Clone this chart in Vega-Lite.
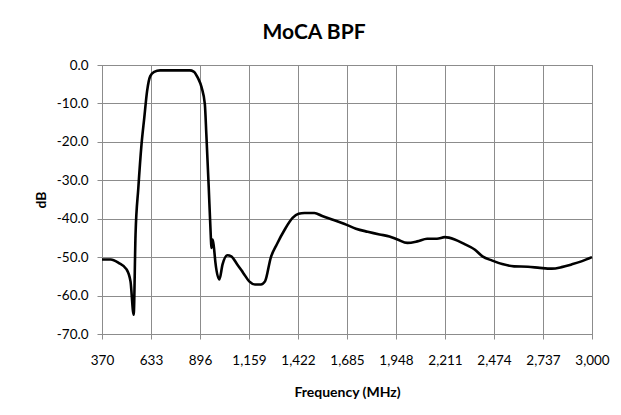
{
  "$schema": "https://vega.github.io/schema/vega-lite/v6.json",
  "width": 490,
  "height": 269,
  "autosize": "none",
  "padding": {"left": 102, "top": 65, "right": 29, "bottom": 81},
  "background": "white",
  "title": {"text": "MoCA BPF", "font": "Lato", "fontSize": 21, "fontWeight": "bold", "color": "#000", "anchor": "middle", "dx": -33, "offset": 15},
  "config": {
    "view": {"stroke": "#8c8c8c", "strokeWidth": 1},
    "axis": {"labelFont": "Lato", "titleFont": "Lato", "labelColor": "#000", "titleColor": "#000", "labelFontSize": 13.5, "titleFontSize": 14, "titleFontWeight": "bold", "gridColor": "#8c8c8c", "gridWidth": 1, "gridOpacity": 1, "domainColor": "#8c8c8c", "tickColor": "#8c8c8c", "tickSize": 5}
  },
  "data": {"values": [
    {"f": 370, "db": -50.6}, {"f": 417, "db": -50.6}, {"f": 459, "db": -51.5}, {"f": 502, "db": -53.2},
    {"f": 523, "db": -56.3}, {"f": 540, "db": -65.0}, {"f": 550, "db": -44.1}, {"f": 565, "db": -32.0},
    {"f": 582, "db": -20.7}, {"f": 597, "db": -13.7}, {"f": 612, "db": -6.8}, {"f": 629, "db": -2.9},
    {"f": 650, "db": -1.8}, {"f": 682, "db": -1.4}, {"f": 841, "db": -1.4}, {"f": 862, "db": -1.7},
    {"f": 884, "db": -3.3}, {"f": 905, "db": -5.9}, {"f": 922, "db": -10.2}, {"f": 930, "db": -18.0},
    {"f": 943, "db": -32.0}, {"f": 952, "db": -42.4}, {"f": 958, "db": -47.6}, {"f": 964, "db": -45.4},
    {"f": 971, "db": -47.6}, {"f": 979, "db": -51.5}, {"f": 1000, "db": -55.8}, {"f": 1017, "db": -51.9},
    {"f": 1043, "db": -49.5}, {"f": 1064, "db": -49.8}, {"f": 1096, "db": -51.9}, {"f": 1128, "db": -54.1},
    {"f": 1160, "db": -56.3}, {"f": 1191, "db": -57.1}, {"f": 1223, "db": -57.1}, {"f": 1245, "db": -56.3},
    {"f": 1276, "db": -50.1}, {"f": 1308, "db": -46.7}, {"f": 1351, "db": -42.8}, {"f": 1393, "db": -39.8},
    {"f": 1425, "db": -38.7}, {"f": 1457, "db": -38.5}, {"f": 1510, "db": -38.5}, {"f": 1552, "db": -39.3},
    {"f": 1605, "db": -40.2}, {"f": 1669, "db": -41.3}, {"f": 1733, "db": -42.6}, {"f": 1796, "db": -43.4},
    {"f": 1860, "db": -44.1}, {"f": 1913, "db": -44.6}, {"f": 1956, "db": -45.4}, {"f": 2009, "db": -46.3},
    {"f": 2062, "db": -45.9}, {"f": 2115, "db": -45.2}, {"f": 2168, "db": -45.2}, {"f": 2210, "db": -44.8},
    {"f": 2263, "db": -45.4}, {"f": 2316, "db": -46.6}, {"f": 2370, "db": -48.0}, {"f": 2412, "db": -49.8},
    {"f": 2465, "db": -50.9}, {"f": 2518, "db": -51.8}, {"f": 2582, "db": -52.4}, {"f": 2656, "db": -52.5},
    {"f": 2720, "db": -52.8}, {"f": 2784, "db": -53.0}, {"f": 2837, "db": -52.6}, {"f": 2890, "db": -51.9},
    {"f": 2943, "db": -51.1}, {"f": 3000, "db": -50.0}
  ]},
  "mark": {"type": "line", "color": "#000", "strokeWidth": 2.6, "interpolate": "monotone"},
  "encoding": {
    "x": {"field": "f", "type": "quantitative", "scale": {"domain": [370, 3000], "nice": false, "zero": false},
      "axis": {"title": "Frequency (MHz)", "values": [370, 633, 896, 1159, 1422, 1685, 1948, 2211, 2474, 2737, 3000], "format": ",d", "labelPadding": 14, "titlePadding": 19, "labelFlush": false}},
    "y": {"field": "db", "type": "quantitative", "scale": {"domain": [-70, 0], "nice": false, "zero": false},
      "axis": {"title": "dB", "values": [-70, -60, -50, -40, -30, -20, -10, 0], "format": ".1f", "labelExpr": "replace(datum.label, '\u2212', '-')", "labelPadding": 9, "titlePadding": 8}}
  }
}
